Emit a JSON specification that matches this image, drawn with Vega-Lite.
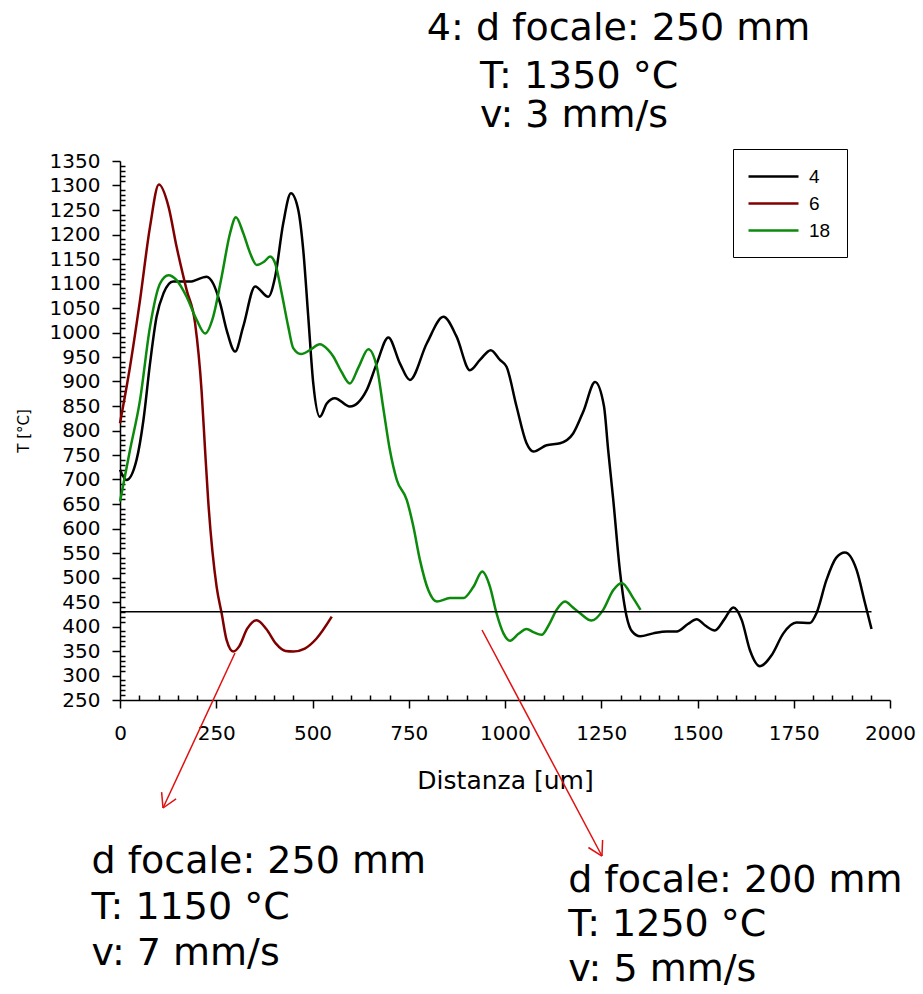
{
  "$schema": "https://vega.github.io/schema/vega-lite/v6.json",
  "width": 770,
  "height": 539,
  "autosize": {"type": "none"},
  "padding": {"left": 120, "top": 161, "right": 33, "bottom": 294},
  "background": "white",
  "config": {
    "view": {"stroke": null},
    "font": "DejaVu Sans",
    "axis": {
      "grid": false,
      "domainColor": "black",
      "domainWidth": 1.5,
      "tickColor": "black",
      "tickWidth": 1.5,
      "labelColor": "black",
      "labelFont": "DejaVu Sans",
      "labelFontSize": 20,
      "labelOverlap": false,
      "labelBound": false,
      "labelFlush": false,
      "titleColor": "black",
      "titleFont": "DejaVu Sans",
      "titleFontWeight": "normal"
    }
  },
  "datasets": {
    "curves": [
      {"s": "4", "x": 0, "y": 720}, {"s": "4", "x": 17, "y": 699}, {"s": "4", "x": 43, "y": 740}, {"s": "4", "x": 61, "y": 822},
      {"s": "4", "x": 78, "y": 937}, {"s": "4", "x": 95, "y": 1032}, {"s": "4", "x": 113, "y": 1080}, {"s": "4", "x": 138, "y": 1104},
      {"s": "4", "x": 182, "y": 1104}, {"s": "4", "x": 225, "y": 1114}, {"s": "4", "x": 242, "y": 1100}, {"s": "4", "x": 260, "y": 1060},
      {"s": "4", "x": 277, "y": 1005}, {"s": "4", "x": 299, "y": 961}, {"s": "4", "x": 320, "y": 1012}, {"s": "4", "x": 351, "y": 1094},
      {"s": "4", "x": 385, "y": 1073}, {"s": "4", "x": 403, "y": 1114}, {"s": "4", "x": 424, "y": 1223}, {"s": "4", "x": 444, "y": 1284},
      {"s": "4", "x": 463, "y": 1250}, {"s": "4", "x": 476, "y": 1168}, {"s": "4", "x": 489, "y": 1032}, {"s": "4", "x": 502, "y": 896},
      {"s": "4", "x": 519, "y": 828}, {"s": "4", "x": 537, "y": 855}, {"s": "4", "x": 558, "y": 866}, {"s": "4", "x": 597, "y": 849},
      {"s": "4", "x": 641, "y": 883}, {"s": "4", "x": 667, "y": 937}, {"s": "4", "x": 697, "y": 990}, {"s": "4", "x": 727, "y": 937},
      {"s": "4", "x": 753, "y": 903}, {"s": "4", "x": 797, "y": 978}, {"s": "4", "x": 840, "y": 1032}, {"s": "4", "x": 874, "y": 992},
      {"s": "4", "x": 909, "y": 923}, {"s": "4", "x": 935, "y": 944}, {"s": "4", "x": 963, "y": 964}, {"s": "4", "x": 987, "y": 944},
      {"s": "4", "x": 1004, "y": 930}, {"s": "4", "x": 1030, "y": 849}, {"s": "4", "x": 1056, "y": 774}, {"s": "4", "x": 1074, "y": 757},
      {"s": "4", "x": 1108, "y": 770}, {"s": "4", "x": 1143, "y": 774}, {"s": "4", "x": 1177, "y": 794}, {"s": "4", "x": 1204, "y": 840},
      {"s": "4", "x": 1234, "y": 899}, {"s": "4", "x": 1257, "y": 850}, {"s": "4", "x": 1268, "y": 760}, {"s": "4", "x": 1281, "y": 660},
      {"s": "4", "x": 1299, "y": 510}, {"s": "4", "x": 1316, "y": 420}, {"s": "4", "x": 1330, "y": 390}, {"s": "4", "x": 1351, "y": 380},
      {"s": "4", "x": 1385, "y": 386}, {"s": "4", "x": 1420, "y": 390}, {"s": "4", "x": 1446, "y": 390}, {"s": "4", "x": 1475, "y": 405},
      {"s": "4", "x": 1498, "y": 415}, {"s": "4", "x": 1520, "y": 402}, {"s": "4", "x": 1545, "y": 392}, {"s": "4", "x": 1570, "y": 415},
      {"s": "4", "x": 1593, "y": 439}, {"s": "4", "x": 1615, "y": 413}, {"s": "4", "x": 1636, "y": 352}, {"s": "4", "x": 1662, "y": 319},
      {"s": "4", "x": 1693, "y": 342}, {"s": "4", "x": 1723, "y": 386}, {"s": "4", "x": 1757, "y": 408}, {"s": "4", "x": 1792, "y": 407},
      {"s": "4", "x": 1809, "y": 427}, {"s": "4", "x": 1835, "y": 495}, {"s": "4", "x": 1860, "y": 540}, {"s": "4", "x": 1883, "y": 551},
      {"s": "4", "x": 1913, "y": 516}, {"s": "4", "x": 1935, "y": 448}, {"s": "4", "x": 1952, "y": 395},

      {"s": "6", "x": 0, "y": 815}, {"s": "6", "x": 26, "y": 930}, {"s": "6", "x": 52, "y": 1066}, {"s": "6", "x": 78, "y": 1216},
      {"s": "6", "x": 101, "y": 1302}, {"s": "6", "x": 126, "y": 1257}, {"s": "6", "x": 147, "y": 1175}, {"s": "6", "x": 173, "y": 1087},
      {"s": "6", "x": 195, "y": 1019}, {"s": "6", "x": 212, "y": 880}, {"s": "6", "x": 221, "y": 760}, {"s": "6", "x": 229, "y": 658},
      {"s": "6", "x": 251, "y": 481}, {"s": "6", "x": 264, "y": 427}, {"s": "6", "x": 277, "y": 372}, {"s": "6", "x": 294, "y": 349},
      {"s": "6", "x": 310, "y": 360}, {"s": "6", "x": 330, "y": 395}, {"s": "6", "x": 355, "y": 413}, {"s": "6", "x": 380, "y": 395},
      {"s": "6", "x": 405, "y": 365}, {"s": "6", "x": 430, "y": 350}, {"s": "6", "x": 450, "y": 349}, {"s": "6", "x": 480, "y": 355},
      {"s": "6", "x": 510, "y": 375}, {"s": "6", "x": 550, "y": 420},

      {"s": "18", "x": 0, "y": 655}, {"s": "18", "x": 26, "y": 760}, {"s": "18", "x": 52, "y": 862}, {"s": "18", "x": 78, "y": 1012},
      {"s": "18", "x": 104, "y": 1100}, {"s": "18", "x": 126, "y": 1117}, {"s": "18", "x": 147, "y": 1107}, {"s": "18", "x": 173, "y": 1073},
      {"s": "18", "x": 199, "y": 1026}, {"s": "18", "x": 221, "y": 998}, {"s": "18", "x": 242, "y": 1032}, {"s": "18", "x": 264, "y": 1114},
      {"s": "18", "x": 286, "y": 1203}, {"s": "18", "x": 301, "y": 1235}, {"s": "18", "x": 320, "y": 1203}, {"s": "18", "x": 338, "y": 1162},
      {"s": "18", "x": 355, "y": 1138}, {"s": "18", "x": 375, "y": 1145}, {"s": "18", "x": 390, "y": 1155}, {"s": "18", "x": 403, "y": 1141},
      {"s": "18", "x": 420, "y": 1080}, {"s": "18", "x": 437, "y": 1012}, {"s": "18", "x": 450, "y": 968}, {"s": "18", "x": 470, "y": 956},
      {"s": "18", "x": 495, "y": 965}, {"s": "18", "x": 519, "y": 976}, {"s": "18", "x": 540, "y": 965}, {"s": "18", "x": 554, "y": 951},
      {"s": "18", "x": 575, "y": 920}, {"s": "18", "x": 597, "y": 896}, {"s": "18", "x": 620, "y": 930}, {"s": "18", "x": 645, "y": 966},
      {"s": "18", "x": 667, "y": 930}, {"s": "18", "x": 684, "y": 845}, {"s": "18", "x": 701, "y": 760}, {"s": "18", "x": 719, "y": 699},
      {"s": "18", "x": 745, "y": 658}, {"s": "18", "x": 762, "y": 604}, {"s": "18", "x": 779, "y": 536}, {"s": "18", "x": 801, "y": 474},
      {"s": "18", "x": 823, "y": 451}, {"s": "18", "x": 857, "y": 458}, {"s": "18", "x": 892, "y": 458}, {"s": "18", "x": 918, "y": 481},
      {"s": "18", "x": 941, "y": 512}, {"s": "18", "x": 961, "y": 481}, {"s": "18", "x": 978, "y": 427}, {"s": "18", "x": 996, "y": 386},
      {"s": "18", "x": 1013, "y": 371}, {"s": "18", "x": 1035, "y": 385}, {"s": "18", "x": 1056, "y": 395}, {"s": "18", "x": 1075, "y": 388},
      {"s": "18", "x": 1095, "y": 383}, {"s": "18", "x": 1115, "y": 405}, {"s": "18", "x": 1134, "y": 434}, {"s": "18", "x": 1156, "y": 451},
      {"s": "18", "x": 1175, "y": 440}, {"s": "18", "x": 1195, "y": 427}, {"s": "18", "x": 1225, "y": 412}, {"s": "18", "x": 1255, "y": 434},
      {"s": "18", "x": 1281, "y": 474}, {"s": "18", "x": 1303, "y": 489}, {"s": "18", "x": 1333, "y": 458}, {"s": "18", "x": 1352, "y": 434}
    ],
    "refline": [{"x": 0, "x2": 1952, "y": 430}],
    "arrows": [
      {"x": 298.7, "y": 345.9, "x2": 111.7, "y2": 29.6},
      {"x": 111.7, "y": 29.6, "x2": 145.7, "y2": 48.4},
      {"x": 111.7, "y": 29.6, "x2": 108.1, "y2": 62},
      {"x": 940.3, "y": 392.9, "x2": 1251.9, "y2": -68.4},
      {"x": 1251.9, "y": -68.4, "x2": 1253.5, "y2": -35.7},
      {"x": 1251.9, "y": -68.4, "x2": 1216.6, "y2": -51}
    ],
    "notes": [
      {"x": 797, "y": 1597, "text": "4: d focale: 250 mm"},
      {"x": 935, "y": 1499, "text": "T: 1350 °C"},
      {"x": 935, "y": 1419, "text": "v: 3 mm/s"},
      {"x": -74, "y": -104, "text": "d focale: 250 mm"},
      {"x": -74, "y": -197, "text": "T: 1150 °C"},
      {"x": -74, "y": -290, "text": "v: 7 mm/s"},
      {"x": 1164, "y": -142, "text": "d focale: 200 mm"},
      {"x": 1164, "y": -232, "text": "T: 1250 °C"},
      {"x": 1164, "y": -323, "text": "v: 5 mm/s"}
    ]
  },
  "encoding": {
    "x": {
      "field": "x", "type": "quantitative",
      "scale": {"domain": [0, 2000], "nice": false, "zero": false},
      "axis": {
        "title": "Distanza [um]",
        "titleFontSize": 25,
        "titlePadding": 25,
        "format": "d",
        "values": [0,50,100,150,200,250,300,350,400,450,500,550,600,650,700,750,800,850,900,950,1000,1050,1100,1150,1200,1250,1300,1350,1400,1450,1500,1550,1600,1650,1700,1750,1800,1850,1900,1950,2000],
        "labelExpr": "datum.value % 250 === 0 ? datum.label : ''",
        "tickSize": {"condition": {"test": "datum.value % 250 === 0", "value": 8}, "value": -5},
        "labelPadding": 15
      }
    },
    "y": {
      "field": "y", "type": "quantitative",
      "scale": {"domain": [250, 1350], "nice": false, "zero": false},
      "axis": {
        "title": "T [°C]",
        "titleFontSize": 15,
        "titlePadding": 18,
        "format": "d",
        "values": [250,260,270,280,290,300,310,320,330,340,350,360,370,380,390,400,410,420,430,440,450,460,470,480,490,500,510,520,530,540,550,560,570,580,590,600,610,620,630,640,650,660,670,680,690,700,710,720,730,740,750,760,770,780,790,800,810,820,830,840,850,860,870,880,890,900,910,920,930,940,950,960,970,980,990,1000,1010,1020,1030,1040,1050,1060,1070,1080,1090,1100,1110,1120,1130,1140,1150,1160,1170,1180,1190,1200,1210,1220,1230,1240,1250,1260,1270,1280,1290,1300,1310,1320,1330,1340,1350],
        "labelExpr": "datum.value % 50 === 0 ? datum.label : ''",
        "tickSize": {"condition": {"test": "datum.value % 50 === 0", "value": 8}, "value": -5},
        "labelPadding": 12
      }
    }
  },
  "layer": [
    {
      "data": {"name": "curves"},
      "mark": {"type": "line", "interpolate": "monotone", "strokeWidth": 2.5},
      "encoding": {
        "color": {
          "field": "s", "type": "nominal",
          "scale": {"domain": ["4", "6", "18"], "range": ["#000000", "#800000", "#0b8a0b"]},
          "legend": {
            "title": null,
            "orient": "none",
            "legendX": 613,
            "legendY": -12,
            "symbolType": "M-2.5,0H2.5",
            "symbolSize": 400,
            "symbolStrokeWidth": 2.5,
            "symbolOffset": 13,
            "labelOffset": 24,
            "labelFont": "Liberation Sans",
            "labelFontSize": 19,
            "labelColor": "black",
            "labelExpr": "datum.label + '\u00a0\u00a0\u00a0'",
            "rowPadding": 5,
            "padding": 16,
            "strokeColor": "black",
            "fillColor": "white"
          }
        }
      }
    },
    {
      "data": {"name": "refline"},
      "mark": {"type": "rule", "color": "black", "strokeWidth": 1.5},
      "encoding": {
        "x2": {"field": "x2"}
      }
    },
    {
      "data": {"name": "arrows"},
      "mark": {"type": "rule", "color": "#e01010", "strokeWidth": 1.5},
      "encoding": {
        "x2": {"field": "x2"},
        "y2": {"field": "y2"}
      }
    },
    {
      "data": {"name": "notes"},
      "mark": {"type": "text", "align": "left", "baseline": "alphabetic", "fontSize": 38, "font": "DejaVu Sans", "color": "black"},
      "encoding": {
        "text": {"field": "text"}
      }
    }
  ]
}
